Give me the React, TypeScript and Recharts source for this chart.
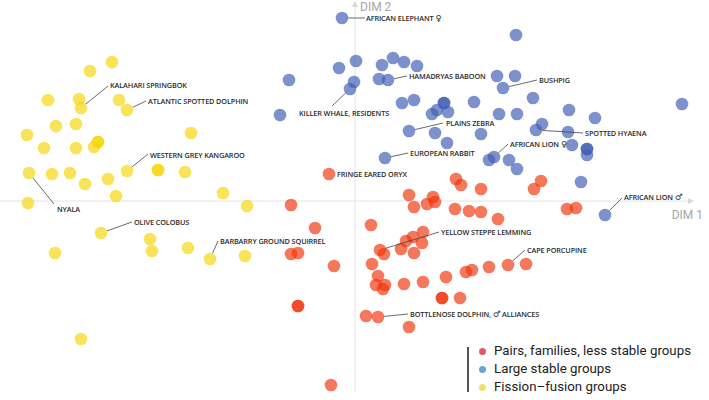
import React from 'react';
import { ScatterChart, Scatter, XAxis, YAxis, ReferenceLine, ReferenceDot } from 'recharts';

// ─── data (DIM 1, DIM 2) ──────────────────────────────────────────────────────

const fissionFusion: [number, number][] = [
  [-2.43, 1.39], [-2.65, 1.30], [-3.07, 1.01], [-2.76, 1.02], [-2.74, 0.93],
  [-2.36, 1.01], [-2.28, 0.91], [-2.99, 0.75], [-2.79, 0.77], [-3.28, 0.66],
  [-3.11, 0.53], [-2.79, 0.53], [-2.61, 0.54], [-2.57, 0.59], [-2.57, 0.59],
  [-1.64, 0.68], [-2.28, 0.30], [-1.97, 0.31], [-1.97, 0.31], [-1.70, 0.29],
  [-3.26, 0.28], [-3.03, 0.27], [-2.85, 0.28], [-2.70, 0.17], [-2.47, 0.22],
  [-2.39, 0.05], [-1.32, 0.08], [-3.27, -0.02], [-1.08, -0.05], [-2.54, -0.32],
  [-2.05, -0.38], [-2.03, -0.50], [-1.67, -0.47], [-1.45, -0.58], [-1.10, -0.55],
  [-3.00, -0.52], [-2.74, -1.38],
];

const largeStable: [number, number][] = [
  [-0.13, 1.83], [0.01, 1.40], [-0.16, 1.33], [-0.66, 1.21], [-0.01, 1.19],
  [-0.05, 1.12], [-0.75, 0.86], [0.27, 1.36], [0.38, 1.43], [0.49, 1.39],
  [0.62, 1.35], [0.24, 1.22], [0.33, 1.21], [0.47, 0.98], [0.59, 1.01],
  [0.30, 0.43], [0.54, 0.70], [1.61, 1.66], [1.42, 1.25], [1.60, 1.25],
  [1.48, 1.13], [1.78, 1.03], [0.89, 0.98], [0.89, 0.98], [0.82, 0.91],
  [0.77, 0.87], [0.93, 0.89], [1.19, 0.99], [1.44, 0.87], [1.62, 0.87],
  [0.80, 0.68], [1.26, 0.67], [0.92, 0.58], [2.14, 0.91], [2.40, 0.83],
  [3.27, 0.97], [1.87, 0.77], [1.81, 0.71], [2.13, 0.69], [2.17, 0.56],
  [2.32, 0.52], [2.32, 0.52], [2.32, 0.46], [1.39, 0.44], [1.34, 0.41],
  [1.54, 0.41], [1.62, 0.32], [2.26, 0.19], [2.50, -0.14],
];

const pairsFamilies: [number, number][] = [
  [-0.26, 0.27], [1.01, 0.22], [1.06, 0.16], [1.26, 0.12], [1.79, 0.12],
  [1.86, 0.20], [0.54, 0.06], [0.78, 0.04], [0.72, -0.03], [0.80, -0.01],
  [0.59, -0.06], [1.00, -0.08], [1.14, -0.10], [1.26, -0.11], [1.43, -0.18],
  [2.12, -0.08], [2.21, -0.07], [-0.64, -0.04], [-0.40, -0.27], [0.16, -0.24],
  [0.68, -0.31], [0.58, -0.36], [0.51, -0.40], [0.67, -0.42], [0.46, -0.48],
  [0.59, -0.52], [0.25, -0.49], [0.29, -0.53], [-0.64, -0.53], [-0.57, -0.52],
  [-0.21, -0.65], [0.17, -0.63], [0.23, -0.75], [0.21, -0.84], [0.30, -0.84],
  [0.28, -0.88], [0.49, -0.83], [0.68, -0.81], [0.91, -0.76], [1.11, -0.71],
  [1.17, -0.69], [1.34, -0.66], [1.53, -0.64], [1.71, -0.63], [0.87, -0.97],
  [0.87, -0.97], [1.05, -0.97], [-0.57, -1.05], [-0.57, -1.05], [0.11, -1.15],
  [0.23, -1.16], [0.54, -1.26], [-0.24, -1.84],
];

const species = [
  { name: 'AFRICAN ELEPHANT ♀', x: -0.13, y: 1.83 },
  { name: 'HAMADRYAS BABOON', x: 0.33, y: 1.21 },
  { name: 'BUSHPIG', x: 1.48, y: 1.13 },
  { name: 'KILLER WHALE, RESIDENTS', x: -0.05, y: 1.12 },
  { name: 'PLAINS ZEBRA', x: 0.54, y: 0.70 },
  { name: 'SPOTTED HYAENA', x: 1.81, y: 0.71 },
  { name: 'EUROPEAN RABBIT', x: 0.30, y: 0.43 },
  { name: 'AFRICAN LION ♀', x: 1.39, y: 0.44 },
  { name: 'FRINGE EARED ORYX', x: -0.26, y: 0.27 },
  { name: 'AFRICAN LION ♂', x: 2.50, y: -0.14 },
  { name: 'KALAHARI SPRINGBOK', x: -2.74, y: 0.93 },
  { name: 'ATLANTIC SPOTTED DOLPHIN', x: -2.28, y: 0.91 },
  { name: 'WESTERN GREY KANGAROO', x: -2.28, y: 0.30 },
  { name: 'NYALA', x: -3.26, y: 0.28 },
  { name: 'OLIVE COLOBUS', x: -2.54, y: -0.32 },
  { name: 'BARBARRY GROUND SQUIRREL', x: -1.45, y: -0.58 },
  { name: 'YELLOW STEPPE LEMMING', x: 0.25, y: -0.49 },
  { name: 'CAPE PORCUPINE', x: 1.53, y: -0.64 },
  { name: 'BOTTLENOSE DOLPHIN, ♂ ALLIANCES', x: 0.23, y: -1.16 },
];

const groupNames = ['Pairs, families, less stable groups', 'Large stable groups', 'Fission–fusion groups'];

// ─── styling ──────────────────────────────────────────────────────────────────

const R = 6.3;
const legendColors = ['#e9566b', '#66a6d3', '#eee06a'];

// leader line end (lx, ly) and text start (tx, ty), px from the point
const labelOffsets: Record<string, { lx?: number; ly?: number; tx: number; ty: number }> = {
  'AFRICAN ELEPHANT ♀': { lx: 23, ly: 0, tx: 24, ty: 0 },
  'HAMADRYAS BABOON': { lx: 19, ly: -4, tx: 21, ty: -4 },
  'BUSHPIG': { lx: 34, ly: -8, tx: 36, ty: -8 },
  'KILLER WHALE, RESIDENTS': { lx: -18, ly: 17, tx: -51, ty: 24 },
  'PLAINS ZEBRA': { lx: 34, ly: -8, tx: 37, ty: -8 },
  'SPOTTED HYAENA': { lx: 47, ly: 3, tx: 49, ty: 3 },
  'EUROPEAN RABBIT': { lx: 23, ly: -5, tx: 25, ty: -5 },
  'AFRICAN LION ♀': { lx: 14, ly: -13, tx: 16, ty: -13 },
  'FRINGE EARED ORYX': { tx: 8, ty: 0 },
  'AFRICAN LION ♂': { lx: 17, ly: -17, tx: 19, ty: -18 },
  'KALAHARI SPRINGBOK': { lx: 27, ly: -22, tx: 29, ty: -23 },
  'ATLANTIC SPOTTED DOLPHIN': { lx: 19, ly: -9, tx: 21, ty: -9 },
  'WESTERN GREY KANGAROO': { lx: 21, ly: -17, tx: 23, ty: -16 },
  'NYALA': { lx: 25, ly: 31, tx: 28, ty: 36 },
  'OLIVE COLOBUS': { lx: 31, ly: -11, tx: 33, ty: -11 },
  'BARBARRY GROUND SQUIRREL': { lx: 8, ly: -18, tx: 10, ty: -18 },
  'YELLOW STEPPE LEMMING': { lx: 59, ly: -18, tx: 61, ty: -18 },
  'CAPE PORCUPINE': { lx: 17, ly: -15, tx: 19, ty: -15 },
  'BOTTLENOSE DOLPHIN, ♂ ALLIANCES': { lx: 30, ly: -3, tx: 32, ty: -3 },
};

const toPts = (arr: [number, number][]) => arr.map(([x, y]) => ({ x, y }));

const dot = (fill: string) => (p: any) => (
  <circle cx={p.cx} cy={p.cy} r={R} fill={fill} fillOpacity={0.68} />
);

// sex symbols are drawn a touch larger, the label font has none of its own
const labelText = (name: string) =>
  name.split(/([♀♂])/).map((part, i) =>
    part === '♀' || part === '♂'
      ? <tspan key={i} fontFamily="DejaVu Sans" fontWeight={400} fontSize={8.5}>{part}</tspan>
      : <tspan key={i}>{part}</tspan>
  );

const AnnotationShape = (p: any) => {
  const o = labelOffsets[p.payload.name];
  let line = null;
  if (o.lx !== undefined && o.ly !== undefined) {
    const len = Math.hypot(o.lx, o.ly);
    line = (
      <line
        x1={p.cx + (o.lx / len) * R} y1={p.cy + (o.ly / len) * R}
        x2={p.cx + o.lx} y2={p.cy + o.ly}
        stroke="#444" strokeWidth={0.8}
      />
    );
  }
  return (
    <g>
      {line}
      <text
        x={p.cx + o.tx} y={p.cy + o.ty} dominantBaseline="central"
        fontFamily="Open Sans" fontWeight={600} fontSize={7.3} letterSpacing={-0.12} fill="#2a2a2a"
      >
        {labelText(p.payload.name)}
      </text>
    </g>
  );
};

const AxisEnd = (dir: 'up' | 'right', label: string) => (p: any) => {
  const { cx, cy } = p;
  if (dir === 'up') {
    return (
      <g>
        <path d={`M${cx - 3},${cy + 5} L${cx},${cy - 1} L${cx + 3},${cy + 5} Z`} fill="#d6d6d6" />
        <text x={cx + 5} y={cy + 4.5} dominantBaseline="central" fontFamily="Roboto" fontSize={12} fill="#a6a6a6">{label}</text>
      </g>
    );
  }
  return (
    <g>
      <path d={`M${cx - 6},${cy - 3} L${cx},${cy} L${cx - 6},${cy + 3} Z`} fill="#d6d6d6" />
      <text x={cx + 9} y={cy + 14} textAnchor="end" dominantBaseline="central" fontFamily="Roboto" fontSize={12} fill="#a6a6a6">{label}</text>
    </g>
  );
};

const LegendBox = () => (
  <div style={{
    position: 'absolute', left: 467, top: 342, width: 240,
    fontFamily: 'Roboto', fontSize: 13.3, color: '#222', lineHeight: '18px',
  }}>
    <div style={{ position: 'absolute', left: 0, top: 5, width: 1.5, height: 45, background: '#555' }} />
    {groupNames.map((g, i) => (
      <div key={g} style={{ position: 'relative', height: 18, paddingLeft: 27, whiteSpace: 'nowrap' }}>
        <span style={{
          position: 'absolute', left: 11.5, top: 5.5, width: 7, height: 7,
          borderRadius: '50%', background: legendColors[i],
        }} />
        {g}
      </div>
    ))}
  </div>
);

export default function App() {
  return (
    <div style={{ position: 'absolute', left: 0, top: 0, width: 709, height: 400, background: '#fff' }}>
      <ScatterChart width={709} height={400} margin={{ top: 0, right: 0, bottom: 0, left: 0 }}>
        <XAxis type="number" dataKey="x" hide domain={[-3.55, 3.54]} allowDataOverflow />
        <YAxis type="number" dataKey="y" hide domain={[-1.99, 2.01]} allowDataOverflow />
        <ReferenceLine segment={[{ x: -3.55, y: 0 }, { x: 3.36, y: 0 }]} stroke="#e4e4e4" strokeWidth={1} />
        <ReferenceLine segment={[{ x: 0, y: -1.91 }, { x: 0, y: 1.97 }]} stroke="#e4e4e4" strokeWidth={1} />
        <ReferenceDot x={0} y={1.99} shape={AxisEnd('up', 'DIM 2')} />
        <ReferenceDot x={3.39} y={0} shape={AxisEnd('right', 'DIM 1')} />
        <Scatter name={groupNames[2]} data={toPts(fissionFusion)} shape={dot('#f6d60a')} isAnimationActive={false} />
        <Scatter name={groupNames[1]} data={toPts(largeStable)} shape={dot('#3f5fb4')} isAnimationActive={false} />
        <Scatter name={groupNames[0]} data={toPts(pairsFamilies)} shape={dot('#f0360f')} isAnimationActive={false} />
        <Scatter data={species} shape={AnnotationShape} isAnimationActive={false} legendType="none" />
      </ScatterChart>
      <LegendBox />
    </div>
  );
}
